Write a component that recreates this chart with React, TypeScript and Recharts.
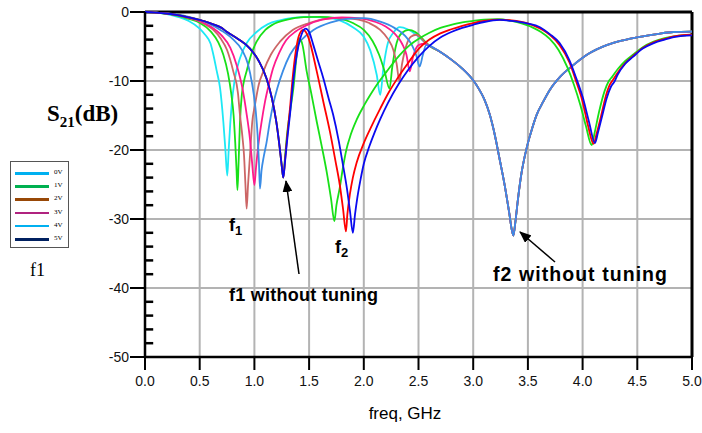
import { LineChart, Line, XAxis, YAxis, CartesianGrid, ReferenceLine } from 'recharts';

type P = [number, number];

const freqTicks = [0, 0.5, 1, 1.5, 2, 2.5, 3, 3.5, 4, 4.5, 5];
const dbTicks = [-50, -40, -30, -20, -10, 0];
const dbMinorTicks = [-48, -46, -44, -42, -38, -36, -34, -32, -28, -26, -24, -22, -18, -16, -14, -12, -8, -6, -4, -2];

const legendNames = ['0V', '1V', '2V', '3V', '4V', '5V'];
const legendColors = ['#00b0f0', '#00b050', '#984807', '#b0237f', '#00b0f0', '#002060'];

// f1 tuning curves: after ~2.6 GHz they all lie on the same trace (f2 without tuning)
const tuneTail: P[] = [
  [2.6, -4.9], [2.7, -5.8], [2.8, -6.9], [2.9, -8.2], [3.0, -9.9], [3.05, -11.1], [3.1, -12.6],
  [3.15, -14.8], [3.2, -18], [3.24, -21.2], [3.29, -25.3], [3.33, -29.2], [3.352, -31.5],
  [3.367, -32.4], [3.385, -30.5], [3.41, -27], [3.44, -23.5], [3.47, -21], [3.5, -19], [3.54, -16.8],
  [3.58, -14.9], [3.64, -13], [3.7, -11.3], [3.8, -9.3], [3.915, -7.7], [4.05, -6.1], [4.22, -4.8],
  [4.37, -4.1], [4.52, -3.6], [4.68, -3.2], [4.83, -2.9], [5.0, -2.85],
];

const cyanHead: P[] = [
  [0, 0], [0.1, -0.1], [0.2, -0.3], [0.3, -0.7], [0.4, -1.3], [0.5, -2.4], [0.55, -3.3], [0.6, -4.6],
  [0.625, -6.2], [0.655, -8.5], [0.686, -11], [0.716, -15.9], [0.735, -20], [0.752, -23.7],
  [0.765, -20], [0.78, -16], [0.792, -13.5], [0.82, -9.8], [0.868, -6.7], [0.93, -4.5], [1.02, -2.9],
  [1.12, -1.8], [1.234, -1.2], [1.35, -0.85], [1.5, -0.7], [1.65, -0.8], [1.78, -1.2], [1.9, -2.2],
  [2.0, -3.6], [2.06, -5.6], [2.118, -9.1], [2.15, -12], [2.18, -8], [2.22, -4.5], [2.27, -3.0],
  [2.33, -2.2], [2.4, -2.5], [2.48, -3.3], [2.55, -4.3],
];

const greenHead: P[] = [
  [0, 0], [0.1, -0.1], [0.2, -0.25], [0.3, -0.55], [0.4, -1.0], [0.503, -1.6], [0.6, -2.8],
  [0.67, -4.4], [0.716, -6.2], [0.76, -9], [0.79, -12], [0.81, -15], [0.825, -19], [0.837, -23],
  [0.845, -25.8], [0.855, -22], [0.868, -16], [0.885, -12], [0.905, -10], [0.93, -8.5], [0.97, -6.2],
  [1.02, -4.3], [1.1, -2.6], [1.17, -1.8], [1.3, -1.1], [1.45, -0.75], [1.6, -0.7], [1.75, -0.9],
  [1.9, -1.6], [2.0, -2.6], [2.08, -4.2], [2.14, -6.2], [2.19, -8.6], [2.235, -11.1], [2.26, -8],
  [2.3, -4.5], [2.35, -3.0], [2.41, -2.6], [2.47, -2.9], [2.55, -4.1],
];

const brownHead: P[] = [
  [0, 0], [0.1, -0.1], [0.2, -0.25], [0.3, -0.5], [0.4, -0.9], [0.503, -1.4], [0.625, -2.6],
  [0.69, -3.8], [0.75, -5.5], [0.807, -8.6], [0.85, -11.8], [0.868, -14.9], [0.89, -18], [0.905, -20.7],
  [0.918, -25], [0.929, -28.5], [0.942, -25], [0.96, -20.7], [0.98, -16], [1.005, -13.5], [1.04, -10.5],
  [1.082, -8.6], [1.15, -6.2], [1.234, -4.3], [1.35, -2.6], [1.5, -1.6], [1.65, -1.0], [1.8, -0.85],
  [1.95, -1.1], [2.05, -1.6], [2.15, -2.6], [2.22, -3.9], [2.27, -5.5], [2.3, -7.5], [2.325, -10],
  [2.35, -7.5], [2.39, -4.8], [2.43, -3.6], [2.48, -3.3], [2.53, -3.9], [2.57, -4.6],
];

const pinkHead: P[] = [
  [0, 0], [0.1, -0.1], [0.2, -0.2], [0.3, -0.45], [0.4, -0.8], [0.5, -1.3], [0.6, -2.1], [0.7, -3.4],
  [0.78, -5.2], [0.838, -7.7], [0.89, -11], [0.93, -14.9], [0.96, -18.5], [0.98, -22], [1.0, -25.1],
  [1.015, -22.5], [1.036, -19.3], [1.065, -16], [1.097, -13], [1.14, -10], [1.17, -8.2], [1.23, -5.8],
  [1.29, -4.1], [1.38, -2.8], [1.48, -1.9], [1.62, -1.1], [1.8, -0.8], [1.95, -0.9], [2.1, -1.4],
  [2.2, -2.1], [2.28, -3.1], [2.35, -4.6], [2.39, -6.2], [2.42, -8.6], [2.45, -6.5], [2.5, -4.8],
  [2.56, -4.6],
];

const blueHead: P[] = [
  [0, 0], [0.1, -0.1], [0.2, -0.2], [0.3, -0.4], [0.4, -0.7], [0.5, -1.15], [0.6, -1.8], [0.7, -2.7],
  [0.8, -3.9], [0.89, -5.6], [0.94, -7.5], [0.98, -10.5], [1.01, -14], [1.03, -18], [1.042, -22],
  [1.051, -25.6], [1.065, -23], [1.085, -21], [1.11, -19], [1.14, -16], [1.17, -13.5], [1.21, -11],
  [1.26, -8.6], [1.325, -6.2], [1.42, -4.2], [1.54, -2.6], [1.7, -1.5], [1.85, -1.0], [2.0, -0.9],
  [2.15, -1.4], [2.28, -2.3], [2.38, -3.5], [2.44, -4.8], [2.48, -6.3], [2.51, -7.9], [2.54, -6.2],
  [2.57, -4.8],
];

// f2 tuning curves share the untuned f1 notch
const untunedHead: P[] = [
  [0, 0], [0.1, -0.08], [0.2, -0.22], [0.3, -0.45], [0.4, -0.78], [0.503, -1.16], [0.6, -1.65],
  [0.7, -2.3], [0.747, -2.85], [0.85, -3.9], [0.96, -5.3], [1.04, -7.1], [1.11, -9.6], [1.16, -12.5],
  [1.2, -15.9], [1.23, -19.5], [1.25, -22.3], [1.264, -24],
];

const f2Green: P[] = [
  [1.28, -21], [1.3, -17.5], [1.33, -14], [1.356, -11.1], [1.387, -6.2], [1.41, -3.8], [1.44, -4.8],
  [1.478, -8.6], [1.52, -11.8], [1.57, -15.9], [1.62, -19.8], [1.66, -23.1], [1.7, -27], [1.731, -30.3],
  [1.75, -28], [1.78, -25.5], [1.81, -22.5], [1.84, -20], [1.88, -17.8], [1.935, -15.6], [2.0, -13.6],
  [2.06, -12], [2.13, -10.3], [2.21, -8.6], [2.33, -6.2], [2.42, -4.8], [2.51, -3.8], [2.6, -3.0],
  [2.7, -2.3], [2.79, -1.9], [2.9, -1.5], [3.0, -1.3], [3.1, -1.1], [3.22, -1.05], [3.35, -1.3],
  [3.45, -1.7], [3.55, -2.3], [3.62, -2.9], [3.7, -3.9], [3.78, -5.5], [3.86, -8], [3.92, -10.5],
  [3.98, -13.5], [4.03, -16.5], [4.083, -19.3], [4.11, -17.5], [4.15, -14.5], [4.2, -11.5], [4.24, -10],
  [4.27, -9.4], [4.32, -8.3], [4.39, -7.1], [4.46, -6.2], [4.55, -5.1], [4.65, -4.3], [4.75, -3.8],
  [4.85, -3.5], [5.0, -3.3],
];

const f2Red: P[] = [
  [1.28, -21.5], [1.3, -18], [1.325, -14], [1.35, -9.5], [1.38, -5.5], [1.41, -3.3], [1.447, -2.6],
  [1.47, -2.9], [1.5, -4], [1.57, -8.6], [1.63, -13], [1.69, -17.3], [1.74, -21.5], [1.78, -25],
  [1.81, -28.5], [1.837, -31.8], [1.85, -29.3], [1.874, -26.3], [1.9, -24], [1.935, -21.8], [2.0, -19],
  [2.06, -16.9], [2.15, -14], [2.23, -11.6], [2.3, -9.8], [2.4, -7.5], [2.51, -5.2], [2.6, -4.0],
  [2.7, -3.1], [2.8, -2.5], [2.9, -2], [3.0, -1.6], [3.1, -1.3], [3.24, -1.1], [3.35, -1.2], [3.49, -1.6],
  [3.6, -2.3], [3.7, -3.3], [3.79, -4.8], [3.88, -7.3], [3.94, -10], [4.0, -13], [4.05, -16.5],
  [4.1, -19.1], [4.13, -17.5], [4.17, -15], [4.21, -12.3], [4.25, -10.5], [4.28, -9.8], [4.32, -8.8],
  [4.39, -7.4], [4.46, -6.4], [4.55, -5.2], [4.65, -4.4], [4.75, -3.9], [4.85, -3.5], [5.0, -3.3],
];

const f2Blue: P[] = [
  [1.28, -21.7], [1.3, -18.5], [1.325, -14.9], [1.355, -10], [1.387, -6.2], [1.42, -3.8], [1.45, -2.6],
  [1.469, -2.4], [1.5, -2.9], [1.539, -4.8], [1.58, -7], [1.63, -9.6], [1.68, -12.6], [1.72, -14.9],
  [1.77, -18.6], [1.81, -22.2], [1.845, -25.5], [1.874, -28.9], [1.9, -32], [1.92, -29.3], [1.94, -27],
  [1.97, -24.3], [2.0, -22], [2.05, -19.5], [2.1, -17.4], [2.148, -15.6], [2.22, -13.2], [2.32, -10.4],
  [2.4, -8.5], [2.5, -6.5], [2.6, -4.9], [2.7, -3.7], [2.8, -2.9], [2.9, -2.3], [3.0, -1.85], [3.1, -1.45],
  [3.24, -1.15], [3.35, -1.3], [3.49, -1.65], [3.61, -2.2], [3.7, -3.2], [3.79, -4.5], [3.88, -7],
  [3.94, -9.5], [4.0, -12.3], [4.06, -16], [4.113, -19], [4.14, -17.5], [4.18, -15], [4.22, -12.5],
  [4.26, -10.8], [4.29, -10.1], [4.32, -9.1], [4.39, -7.5], [4.46, -6.5], [4.55, -5.3], [4.65, -4.5],
  [4.75, -4], [4.85, -3.6], [5.0, -3.4],
];

const toRows = (pts: P[]) => pts.map(([f, db]) => ({ f, db }));

const series = [
  { name: 'cyan', color: '#1ee8f5', pts: [...cyanHead, ...tuneTail] },
  { name: 'green', color: '#18e018', pts: [...greenHead, ...tuneTail] },
  { name: 'brown', color: '#cc6666', pts: [...brownHead, ...tuneTail] },
  { name: 'pink', color: '#ff1a8c', pts: [...pinkHead, ...tuneTail] },
  { name: 'blue', color: '#3a8ce6', pts: [...blueHead, ...tuneTail] },
  { name: 'f2green', color: '#18e018', pts: [...untunedHead, ...f2Green] },
  { name: 'f2red', color: '#ff0000', pts: [...untunedHead, ...f2Red] },
  { name: 'f2blue', color: '#0a0af0', pts: [...untunedHead, ...f2Blue] },
];

const sans = '"Liberation Sans", Arial, sans-serif';
const serif = '"Liberation Serif", "Times New Roman", serif';

export default function App() {
  return (
    <div style={{ position: 'absolute', left: 0, top: 0, width: 702, height: 433, background: '#fff', color: '#000', fontFamily: sans }}>
      <LineChart width={702} height={433} margin={{ top: 12, right: 10, bottom: 36, left: 100 }}>
        <CartesianGrid stroke="#b3b3b3" strokeWidth={2} />
        <XAxis
          dataKey="f"
          type="number"
          domain={[0, 5]}
          ticks={freqTicks}
          allowDuplicatedCategory={false}
          tickFormatter={(v: number) => v.toFixed(1)}
          height={40}
          tickSize={13}
          tickMargin={6}
          axisLine={{ stroke: '#000', strokeWidth: 2.5 }}
          tickLine={{ stroke: '#000', strokeWidth: 2 }}
          tick={{ fill: '#111', fontSize: 14, fontFamily: sans }}
        />
        <YAxis
          type="number"
          domain={[-50, 0]}
          ticks={dbTicks}
          width={45}
          tickSize={15}
          tickMargin={1}
          axisLine={{ stroke: '#000', strokeWidth: 2.5 }}
          tickLine={{ stroke: '#000', strokeWidth: 2 }}
          tick={{ fill: '#111', fontSize: 14, fontFamily: sans }}
        />
        {dbMinorTicks.map((t) => (
          <ReferenceLine
            key={t}
            segment={[{ x: 0, y: t }, { x: 0.075, y: t }]}
            stroke="#000"
            strokeWidth={2.5}
          />
        ))}
        <ReferenceLine y={0} stroke="#000" strokeWidth={3} />
        <ReferenceLine x={5} stroke="#000" strokeWidth={3} />
        {series.map((s) => (
          <Line
            key={s.name}
            data={toRows(s.pts)}
            dataKey="db"
            type="monotone"
            stroke={s.color}
            strokeWidth={1.8}
            dot={false}
            activeDot={false}
            isAnimationActive={false}
          />
        ))}
      </LineChart>

      <div style={{ position: 'absolute', left: 47, top: 101, fontFamily: serif, fontWeight: 'bold', fontSize: 23, whiteSpace: 'nowrap', color: '#000' }}>
        S<sub style={{ fontSize: 15 }}>21</sub>(dB)
      </div>

      <div style={{ position: 'absolute', left: 10, top: 161, width: 57, height: 85, border: '1px solid #555', background: '#fff' }}>
        {legendNames.map((n, i) => (
          <div key={n}>
            <div style={{ position: 'absolute', left: 4, top: 10 + i * 13.2, width: 34, height: 2.5, background: legendColors[i] }} />
            <div style={{ position: 'absolute', left: 43, top: 6 + i * 13.2, fontSize: 7, fontFamily: serif, lineHeight: '9px', color: '#000' }}>{n}</div>
          </div>
        ))}
      </div>
      <div style={{ position: 'absolute', left: 30, top: 260, fontFamily: serif, fontSize: 18, color: '#000' }}>f1</div>

      <svg width={702} height={433} style={{ position: 'absolute', left: 0, top: 0, pointerEvents: 'none' }}>
        <defs>
          <marker id="ah" markerWidth={12} markerHeight={10} refX={11} refY={5} orient="auto" markerUnits="userSpaceOnUse">
            <path d="M0,0 L12,5 L0,10 z" fill="#000" />
          </marker>
        </defs>
        <line x1={299} y1={274} x2={286} y2={181} stroke="#000" strokeWidth={1.5} markerEnd="url(#ah)" />
        <line x1={555} y1={262} x2={520} y2={232} stroke="#000" strokeWidth={1.5} markerEnd="url(#ah)" />
        <text x={229} y={231} fill="#000" fontFamily={sans} fontWeight="bold" fontSize={18}>
          f<tspan fontSize={13} dy={4}>1</tspan>
        </text>
        <text x={335} y={253} fill="#000" fontFamily={sans} fontWeight="bold" fontSize={18}>
          f<tspan fontSize={13} dy={4}>2</tspan>
        </text>
        <text x={229} y={301} fill="#000" fontFamily={sans} fontWeight="bold" fontSize={18} textLength={149}>
          f1 without tuning
        </text>
        <text x={493} y={281} fill="#000" fontFamily={sans} fontWeight="bold" fontSize={19.5} textLength={174}>
          f2 without tuning
        </text>
        <text x={405} y={419} fill="#000" fontFamily={sans} fontSize={17} textAnchor="middle">
          freq, GHz
        </text>
      </svg>
    </div>
  );
}
